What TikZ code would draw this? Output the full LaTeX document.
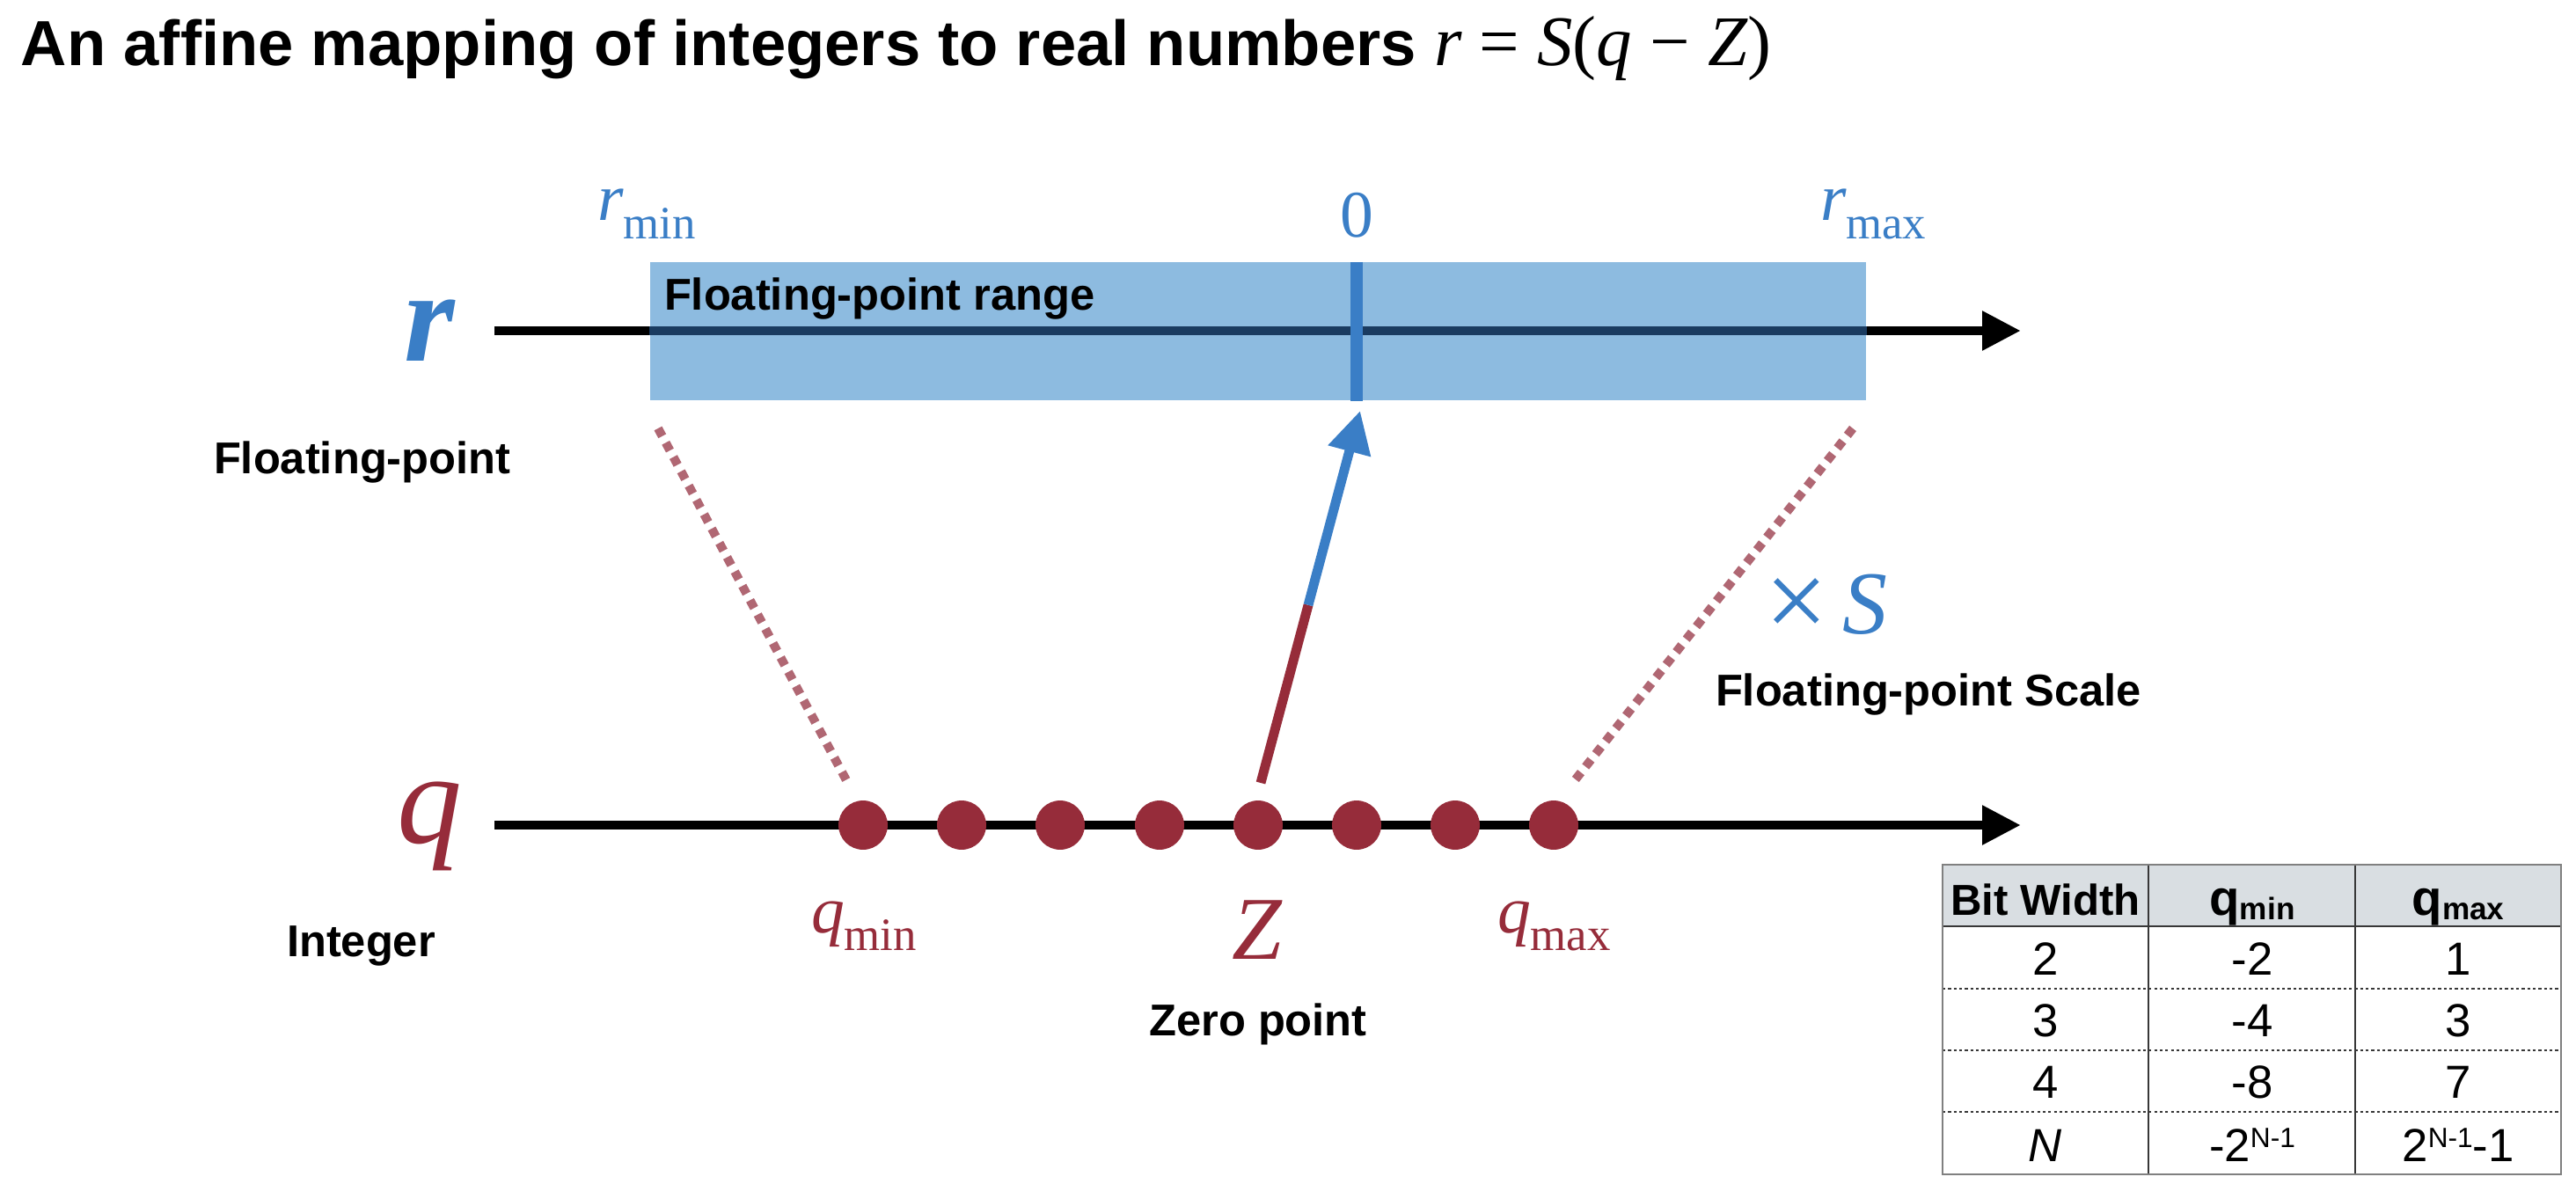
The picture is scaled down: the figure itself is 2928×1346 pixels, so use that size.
\documentclass[tikz,border=0pt]{standalone}
\usepackage{fontspec}
\setmainfont{Liberation Sans}
\newfontfamily\tms{Liberation Serif}
\usetikzlibrary{arrows.meta,calc}
\definecolor{qblue}{RGB}{58,126,198}
\definecolor{bandc}{RGB}{141,187,224}
\definecolor{banddark}{RGB}{26,59,96}
\definecolor{qred}{RGB}{150,44,58}
\definecolor{dotc}{RGB}{176,103,115}
\definecolor{hdr}{RGB}{217,222,226}
\definecolor{tgray}{RGB}{128,128,128}
\definecolor{tdark}{RGB}{55,55,55}
\newcommand\fs[1]{\fontsize{#1}{#1}\selectfont}
\newcommand\subl[2]{{\itshape #1}\raisebox{-5.7pt}{\fs{15}#2}}
\newcommand\supr[1]{\raisebox{4.5pt}{\fs{9}#1}}
\begin{document}
\begin{tikzpicture}[x=0.01cm,y=-0.01cm,
  lbl/.style={inner sep=0pt,outer sep=0pt,anchor=base west},
  boldlbl/.style={lbl,font=\fs{14.4}\bfseries},
  axisline/.style={line width=3.1pt,-{Triangle[length=12.5pt,width=12pt]}},
  guide/.style={dotc,line width=2.85pt,dash pattern=on 2.85pt off 2.4pt},
  qdot/.style={circle,fill=qred,inner sep=0pt,minimum size=15.9pt},
  mathlbl/.style={lbl,font=\tms\fs{21.5}},
  cell/.style={inner sep=0pt,anchor=base,font=\fs{15}},
  hcell/.style={inner sep=0pt,anchor=base,font=\fs{14}\bfseries},
  rowsep/.style={tdark,line width=0.5pt,dash pattern=on 0.9pt off 0.9pt}]
\useasboundingbox (0,0) rectangle (2928,1346);

% title
\node[lbl,font=\fs{20.6}\bfseries] (title) at (24,75)
  {An affine mapping of integers to real numbers {\tms\mdseries\fs{23}\itshape r\upshape\ =\ \itshape S\upshape(\itshape q\upshape\ \char"2212\ \itshape Z\upshape)}};

% r axis and band
\coordinate (rstart) at (562,376);
\coordinate (rend) at (2297,376);
\draw[axisline] (rstart) -- (rend);
\node[fill=bandc,inner sep=0pt,minimum width=13.82cm,minimum height=1.57cm] (band) at (1430,376.5) {};
\draw[banddark,line width=3.1pt] (band.west |- rstart) -- (band.east |- rstart);
\coordinate (ztop) at (1542,298);
\coordinate (zbot) at (1542,456);
\draw[qblue,line width=4pt] (ztop) -- (zbot);
\node[boldlbl] (rangelbl) at (755,353) {Floating-point range};

% r labels
\node[mathlbl,text=qblue] (rmin) at (679,251) {\subl{r}{min}};
\node[mathlbl,text=qblue,anchor=base] (zero) at (1542,270) {0};
\node[mathlbl,text=qblue] (rmax) at (2069,251) {\subl{r}{max}};
\node[inner sep=0pt,anchor=base,text=qblue,font=\tms\fs{42}\bfseries\itshape] (rbig) at (488,410) {r};
\node[boldlbl] (fplbl) at (243,538) {Floating-point};

% q axis
\coordinate (qstart) at (562,938);
\coordinate (qend) at (2297,938);
\draw[axisline] (qstart) -- (qend);
\foreach \x [count=\k] in {981,1093,1205,1318,1430,1542,1654,1766}
  \node[qdot] (d\k) at (\x,938) {};
\node[inner sep=0pt,anchor=base,text=qred,font=\tms\fs{42}\itshape] (qbig) at (488,958) {q};
\node[boldlbl] (intlbl) at (326,1087) {Integer};
\node[mathlbl,text=qred] (qmin) at (922,1060) {\subl{q}{min}};
\node[mathlbl,text=qred] (qmax) at (1702,1060) {\subl{q}{max}};
\node[inner sep=0pt,anchor=base,text=qred,font=\tms\fs{29}\itshape] (zlbl) at (1429,1090) {Z};
\node[boldlbl,anchor=base] (zplbl) at (1430,1177) {Zero point};

% guides
\coordinate (gl1) at (748,487);
\coordinate (gl2) at (962,887);
\coordinate (gr1) at (2106,487);
\coordinate (gr2) at (1790,887);
\draw[guide] (gl1) -- (gl2);
\draw[guide] (gr1) -- (gr2);
\node[lbl,text=qblue,font=\tms\fs{29}] (times) at (2006,720) {\raisebox{-1.5pt}{\fs{36}\char"00D7}\,\itshape S};
\node[boldlbl] (scalelbl) at (1950,802) {Floating-point Scale};

% zero-point arrow
\coordinate (atail) at (1433,890);
\coordinate (atip) at (1546,467);
\coordinate (amid) at ($(atail)!0.478!(atip)$);
\draw[qred,line width=3.1pt] (atail) -- (amid);
\draw[qblue,line width=3.1pt,-{Triangle[length=13.5pt,width=13.5pt]}] (amid) -- (atip);

% table
\fill[hdr] (2208,983) rectangle (2911,1053);
\draw[rowsep] (2208,1124) -- (2911,1124);
\draw[rowsep] (2208,1194) -- (2911,1194);
\draw[rowsep] (2208,1264) -- (2911,1264);
\draw[tdark,line width=0.6pt] (2208,1053) -- (2911,1053);
\draw[tdark,line width=0.6pt] (2442,983) -- (2442,1335);
\draw[tdark,line width=0.6pt] (2677,983) -- (2677,1335);
\draw[tgray,line width=0.6pt] (2208,983) rectangle (2911,1335);
\node[hcell] (h1) at (2325,1040) {Bit Width};
\node[hcell] (h2) at (2560,1040) {{\fs{16}q}\raisebox{-1.5pt}{\fs{10}min}};
\node[hcell] (h3) at (2794,1040) {{\fs{16}q}\raisebox{-1.5pt}{\fs{10}max}};
\node[cell] (c11) at (2325,1108) {2};
\node[cell] (c12) at (2560,1108) {-2};
\node[cell] (c13) at (2794,1108) {1};
\node[cell] (c21) at (2325,1178) {3};
\node[cell] (c22) at (2560,1178) {-4};
\node[cell] (c23) at (2794,1178) {3};
\node[cell] (c31) at (2325,1248) {4};
\node[cell] (c32) at (2560,1248) {-8};
\node[cell] (c33) at (2794,1248) {7};
\node[cell] (c41) at (2325,1320) {\itshape N};
\node[cell] (c42) at (2560,1320) {-2\supr{N-1}};
\node[cell] (c43) at (2794,1320) {2\supr{N-1}-1};
\end{tikzpicture}
\end{document}
